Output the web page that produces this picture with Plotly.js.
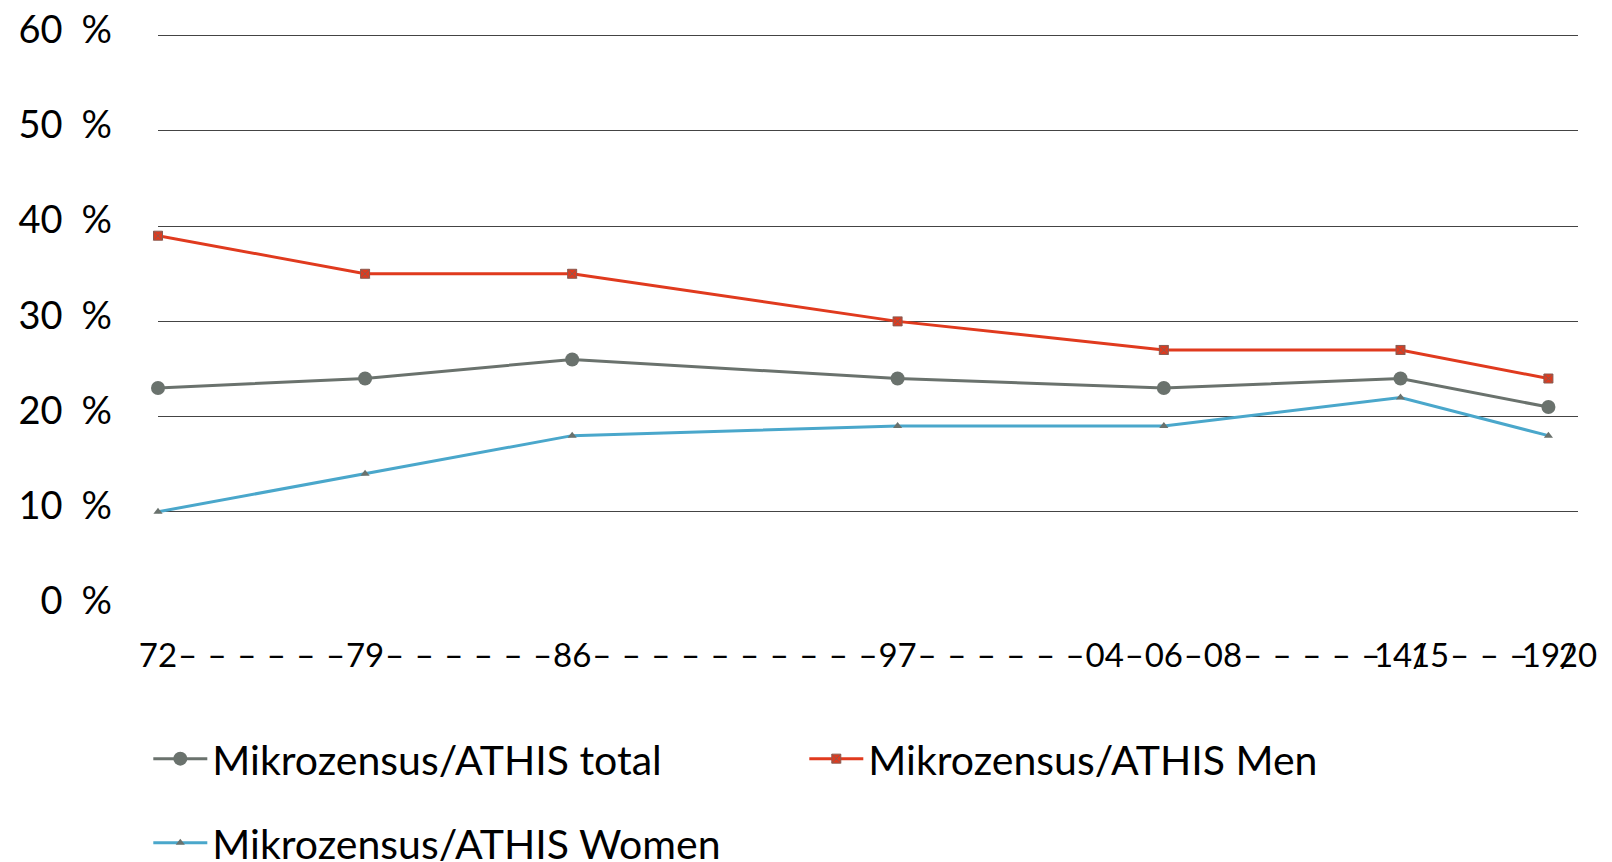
<!DOCTYPE html>
<html><head><meta charset="utf-8">
<script src="https://cdn.plot.ly/plotly-3.0.1.min.js"></script>
<style>html,body{margin:0;padding:0;background:#fff}</style>
</head><body><div id="chart" style="width:1612px;height:862px"></div>
<script>
const years = [1972, 1979, 1986, 1997, 2006, 2014, 2019];
const total = [23, 24, 26, 24, 23, 24, 21];
const men = [39, 35, 35, 30, 27, 27, 24];
const women = [10, 14, 18, 19, 19, 22, 18];
const tickLabelMap = {1972:"72",1979:"79",1986:"86",1997:"97",2004:"04",2006:"06",2008:"08",2014:"14/",2015:"15",2019:"19/",2020:"20"};
const yTickVals = [0,10,20,30,40,50,60];
const yTickText = ["0\u2002%","10\u2002%","20\u2002%","30\u2002%","40\u2002%","50\u2002%","60\u2002%"];

const xTickVals = [], xTickText = [];
for (let y = 1972; y <= 2020; y++) { xTickVals.push(y); xTickText.push(tickLabelMap[y] || "\u2013"); }

const F = "Lato, 'Open Sans', sans-serif";
const traces = [
  {x: years, y: total, name: "Mikrozensus/ATHIS total", mode: "lines+markers", cliponaxis: false,
   line: {color: "#6a726d", width: 3}, marker: {symbol: "circle", size: 14, color: "#6a726d"}, legend: "legend"},
  {x: years, y: men, name: "Mikrozensus/ATHIS Men", mode: "lines+markers", cliponaxis: false,
   line: {color: "#e03a1e", width: 3}, marker: {symbol: "square-x", size: 9, color: "#e03a1e", line: {color: "#8a5a50", width: 1}}, legend: "legend"},
  {x: years, y: women, name: "Mikrozensus/ATHIS Women", mode: "lines+markers", cliponaxis: false,
   line: {color: "#4aa7cb", width: 3}, marker: {symbol: "triangle-up", size: 8, color: "#6a726d"}, legend: "legend2"}
];
const layout = {
  width: 1612, height: 862,
  margin: {l: 158, r: 34, t: 31, b: 255},
  paper_bgcolor: "#fff", plot_bgcolor: "#fff",
  font: {family: F, color: "#000"},
  showlegend: true,
  xaxis: {range: [1972, 2020], tickmode: "array", tickvals: xTickVals, ticktext: xTickText,
    showgrid: false, zeroline: false, showline: false, ticks: "", tickangle: 0,
    tickfont: {family: F, size: 33, color: "#000"}, ticklabelstandoff: 26, fixedrange: true},
  yaxis: {range: [0, 60.5], tickmode: "array", tickvals: yTickVals, ticktext: yTickText,
    showgrid: true, gridcolor: "#444", gridwidth: 1, zeroline: false, showline: false, ticks: "",
    tickfont: {family: F, size: 38, color: "#000"}, ticklabelstandoff: 45, ticklabelshift: -6, fixedrange: true},
  legend: {orientation: "h", x: 0.092, y: 0.1195, xanchor: "left", yanchor: "middle", xref: "container", yref: "container",
    entrywidth: 587, entrywidthmode: "pixels", font: {family: F, size: 41, color: "#000"}, itemwidth: 54, bgcolor: "rgba(0,0,0,0)"},
  legend2: {orientation: "h", x: 0.092, y: 0.022, xanchor: "left", yanchor: "middle", xref: "container", yref: "container",
    font: {family: F, size: 41, color: "#000"}, itemwidth: 54, bgcolor: "rgba(0,0,0,0)"}
};
Plotly.newPlot("chart", traces, layout, {displayModeBar: false, staticPlot: true});
</script></body></html>
